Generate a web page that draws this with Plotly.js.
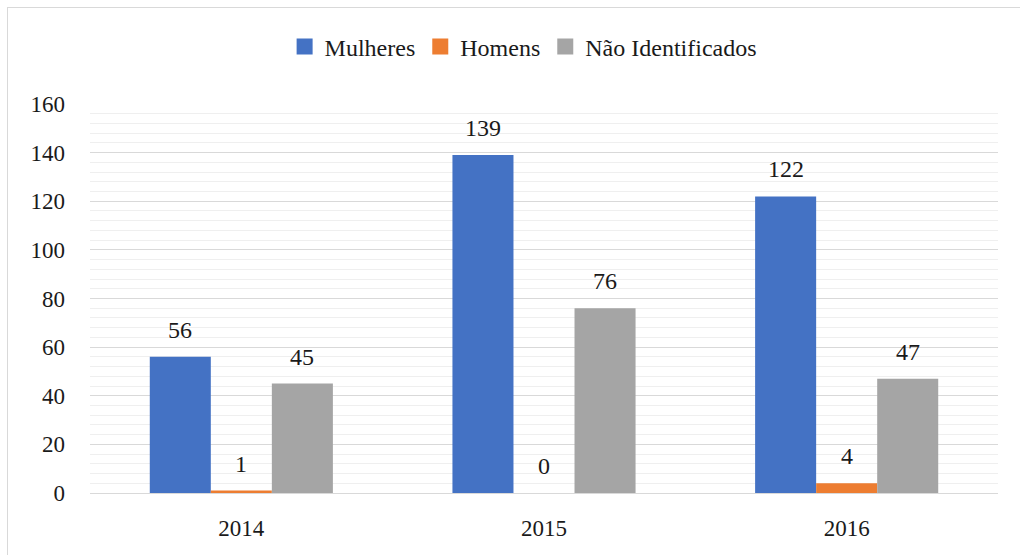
<!DOCTYPE html>
<html>
<head>
<meta charset="utf-8">
<script src="https://cdn.plot.ly/plotly-3.0.1.min.js"></script>
<style>
  html, body { margin: 0; padding: 0; background: #fff; }
  #wrap { position: relative; width: 1020px; height: 555px; }
  #chart { width: 1020px; height: 555px; }
  #frame { position: absolute; left: 7px; top: 7px; width: 1013px; height: 548px;
           border-top: 1px solid #d9d9d9; border-left: 1px solid #d9d9d9; pointer-events: none; }
</style>
</head>
<body>
<div id="wrap"><div id="chart"></div><div id="frame"></div></div>
<script>
const categories = ['2014', '2015', '2016'];
const seriesNames = ['Mulheres', 'Homens', 'Não Identificados'];
const mulheres = [56, 139, 122];
const homens = [1, 0, 4];
const naoIdentificados = [45, 76, 47];
const colors = ['#4472C4', '#ED7D31', '#A5A5A5'];
const yTicks = [0, 20, 40, 60, 80, 100, 120, 140, 160];

const seriesValues = [mulheres, homens, naoIdentificados];
const fontFamily = 'Liberation Serif, DejaVu Serif, serif';

const traces = seriesValues.map((vals, i) => ({
  type: 'bar',
  name: seriesNames[i],
  x: categories,
  y: vals,
  marker: { color: colors[i], line: { width: 0 } },
  showlegend: false,
  hoverinfo: 'none'
}));

// legend-only entries with larger square symbols
seriesNames.forEach((n, i) => {
  traces.push({
    type: 'scatter', mode: 'markers', name: n,
    x: [null], y: [null],
    marker: { symbol: 'square', size: 16, color: colors[i] },
    showlegend: true, hoverinfo: 'none'
  });
});

const barPx = 61;
const annotations = [];
seriesValues.forEach((vals, i) => {
  vals.forEach((v, j) => {
    annotations.push({
      x: j, y: v, xref: 'x', yref: 'y',
      text: String(v), showarrow: false,
      xshift: (i - 1) * barPx, yshift: 12,
      yanchor: 'bottom', xanchor: 'center',
      font: { family: fontFamily, size: 24, color: '#1a1a1a' }
    });
  });
});

const layout = {
  width: 1020, height: 555,
  margin: { l: 90, r: 22, t: 104, b: 62 },
  paper_bgcolor: '#ffffff', plot_bgcolor: '#ffffff',
  font: { family: fontFamily, size: 23, color: '#1a1a1a' },
  barmode: 'group', bargap: 0.395, bargroupgap: 0,
  showlegend: true,
  legend: {
    orientation: 'h', x: 0.477, xanchor: 'center', y: 1.147, yanchor: 'middle',
    font: { family: fontFamily, size: 24, color: '#1a1a1a' },
    traceorder: 'normal', itemsizing: 'trace', itemwidth: 30
  },
  xaxis: {
    type: 'category', showgrid: false, zeroline: false,
    showline: true, linecolor: '#d9d9d9', linewidth: 1,
    ticks: '', ticklabelstandoff: 14,
    tickfont: { family: fontFamily, size: 23, color: '#1a1a1a' }
  },
  yaxis: {
    range: [0, 160], autorange: false, tickvals: yTicks, ticktext: yTicks.map(String),
    showgrid: true, gridcolor: '#d9d9d9', gridwidth: 1,
    zeroline: false, showline: false, ticks: '',
    ticklabelstandoff: 24,
    tickfont: { family: fontFamily, size: 23, color: '#1a1a1a' },
    minor: { dtick: 4, showgrid: true, gridcolor: '#efefef', gridwidth: 1 }
  },
  annotations: annotations
};

Plotly.newPlot('chart', traces, layout, { displayModeBar: false, staticPlot: true });
</script>
</body>
</html>
